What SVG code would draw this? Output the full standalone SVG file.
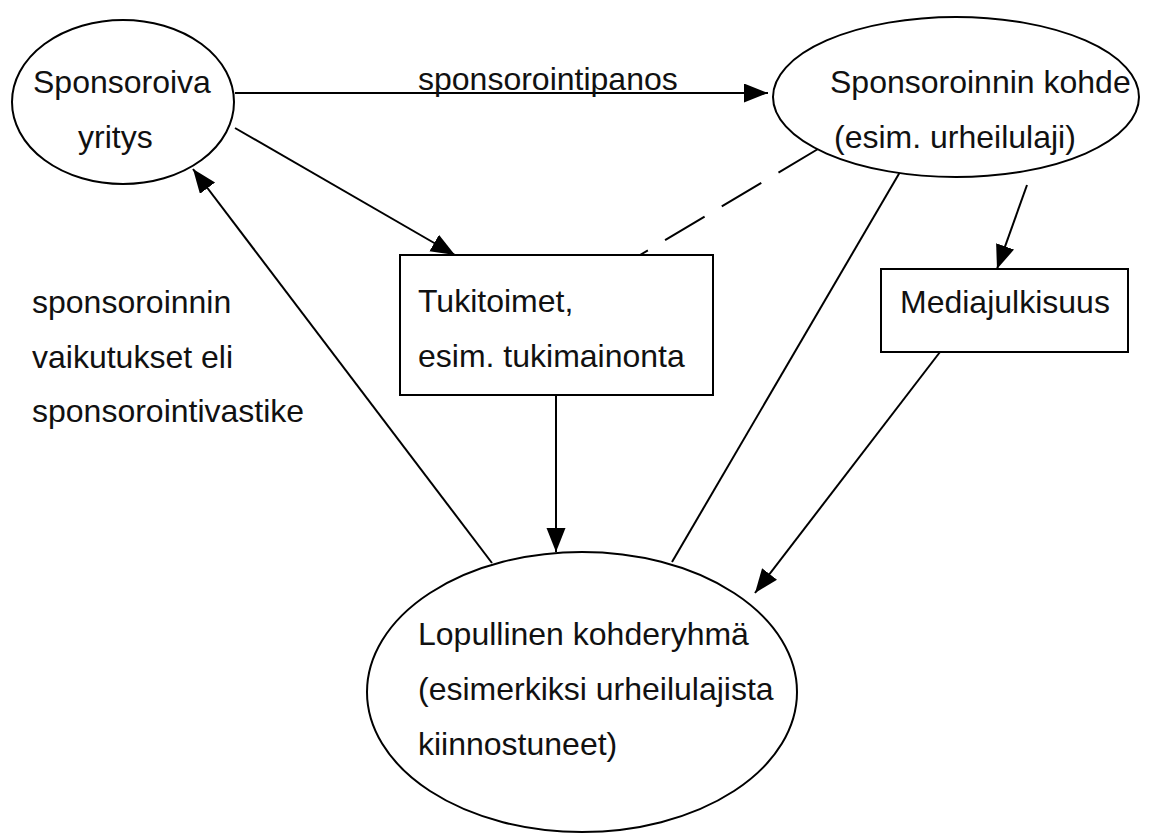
<svg xmlns="http://www.w3.org/2000/svg" width="1162" height="834" viewBox="0 0 1162 834">
<style>
.shape{fill:#fff;stroke:#000;stroke-width:2}
.lbl{font-family:"Liberation Sans",Arial,sans-serif;font-size:32px;fill:#111}
.con{fill:none;stroke:#000;stroke-width:2}
.dash{stroke-dasharray:46 20}
</style>
<defs>
<marker id="ah" markerUnits="userSpaceOnUse" markerWidth="26" markerHeight="20" refX="24" refY="9.5" orient="auto">
<path d="M0,0 L24,9.5 L0,19 Z" fill="#000"/>
</marker>
</defs>
<rect width="1162" height="834" fill="#fff"/>
<g id="connectors">
<line class="con" x1="235" y1="93" x2="768" y2="93" marker-end="url(#ah)"/>
<line class="con" x1="235" y1="128" x2="455" y2="255" marker-end="url(#ah)"/>
<line class="con" x1="492" y1="563" x2="193" y2="169" marker-end="url(#ah)"/>
<line class="con" x1="556" y1="395" x2="556" y2="552" marker-end="url(#ah)"/>
<line class="con" x1="1027" y1="185" x2="997" y2="269" marker-end="url(#ah)"/>
<line class="con" x1="940" y1="352" x2="755" y2="593" marker-end="url(#ah)"/>
<line class="con" x1="900" y1="172" x2="672" y2="562"/>
<line class="con dash" x1="818" y1="149" x2="640" y2="255"/>
</g>
<text class="lbl" x="418" y="90">sponsorointipanos</text>
<text class="lbl" x="32" y="313">sponsoroinnin</text>
<text class="lbl" x="32" y="368">vaikutukset eli</text>
<text class="lbl" x="32" y="422">sponsorointivastike</text>
<g id="sponsoroiva">
<ellipse class="shape" cx="123" cy="102" rx="111" ry="82"/>
<text class="lbl" x="33" y="93">Sponsoroiva</text>
<text class="lbl" x="78" y="148">yritys</text>
</g>
<g id="kohde">
<ellipse class="shape" cx="956" cy="97" rx="183" ry="80"/>
<text class="lbl" x="830" y="93">Sponsoroinnin kohde</text>
<text class="lbl" x="834" y="148">(esim. urheilulaji)</text>
</g>
<g id="tukitoimet">
<rect class="shape" x="400" y="255" width="313" height="140"/>
<text class="lbl" x="418" y="312">Tukitoimet,</text>
<text class="lbl" x="418" y="367">esim. tukimainonta</text>
</g>
<g id="media">
<rect class="shape" x="881" y="269" width="247" height="83"/>
<text class="lbl" x="900" y="313">Mediajulkisuus</text>
</g>
<g id="kohderyhma">
<ellipse class="shape" cx="582" cy="692" rx="215" ry="140"/>
<text class="lbl" x="418" y="645">Lopullinen kohderyhmä</text>
<text class="lbl" x="418" y="700">(esimerkiksi urheilulajista</text>
<text class="lbl" x="418" y="755">kiinnostuneet)</text>
</g>
</svg>
